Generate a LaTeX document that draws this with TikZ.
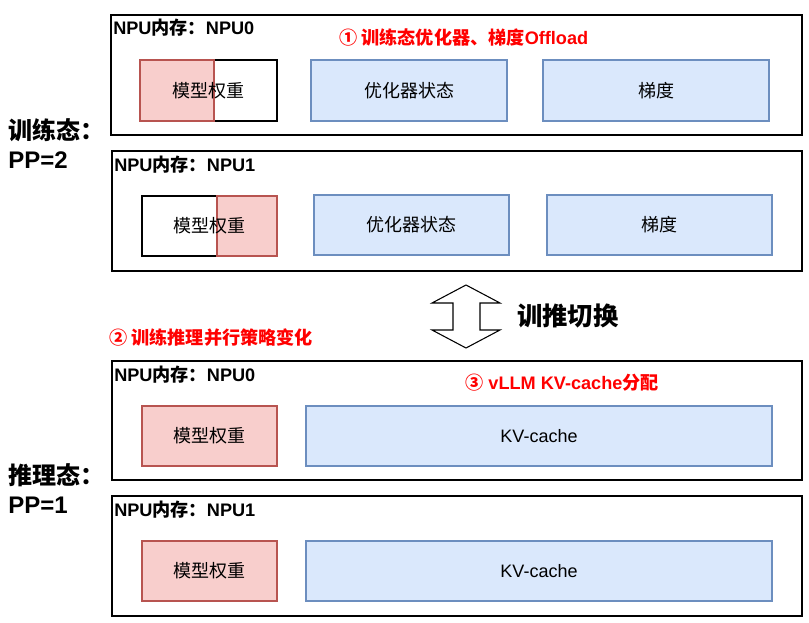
\documentclass[tikz,border=0pt]{standalone}
\usepackage{fontspec}
\setmainfont{Liberation Sans}
\newfontfamily\cjk{Noto Sans CJK SC}
\usetikzlibrary{fit}
\definecolor{redfill}{HTML}{F8CECC}
\definecolor{redline}{HTML}{B85450}
\definecolor{bluefill}{HTML}{DAE8FC}
\definecolor{blueline}{HTML}{6C8EBF}
\definecolor{hilite}{HTML}{FF0000}
\begin{document}
\begin{tikzpicture}[x=0.75pt,y=-0.75pt,
  mem/.style={draw=black, line width=1.1pt, inner sep=0pt},
  wbox/.style={draw=black, line width=0.8pt, fill=white, inner sep=0pt},
  rbox/.style={draw=redline, line width=0.8pt, fill=redfill, inner sep=0pt},
  bbox/.style={draw=blueline, line width=0.8pt, fill=bluefill, inner sep=0pt},
  boxtext/.style={font=\fontsize{13.5}{16}\selectfont, inner sep=0pt},
  npulabel/.style={anchor=west, inner sep=0pt, font=\bfseries\fontsize{13.6}{16}\selectfont},
  redlabel/.style={anchor=west, inner sep=0pt, text=hilite, font=\bfseries\fontsize{13.6}{16}\selectfont},
  statelabel/.style={anchor=west, inner sep=0pt, align=left, font=\bfseries\fontsize{18}{23}\selectfont},
]
\useasboundingbox (0,0) rectangle (809,623);

% ---------- training state, NPU0 ----------
\node[mem, fit={(111,15) (802,135)}] (m0) {};
\node[npulabel] (n0) at (113,28) {NPU{\cjk 内存：}NPU0};
\node[wbox, fit={(140,60) (277,121)}] (w0) {};
\node[rbox, fit={(140,60) (214,121)}] (w0r) {};
\node[boxtext] (w0t) at (208.5,90.5) {\cjk 模型权重};
\node[bbox, fit={(311,60) (507,121)}] (o0) {};
\node[boxtext] (o0t) at (o0.center) {\cjk 优化器状态};
\node[bbox, fit={(543,60) (769,121)}] (g0) {};
\node[boxtext] (g0t) at (g0.center) {\cjk 梯度};
\node[redlabel] (r1) at (339,38) {{\cjk ① 训练态优化器、梯度}Offload};

% ---------- training state, NPU1 ----------
\node[mem, fit={(112,151) (802,271)}] (m1) {};
\node[npulabel] (n1) at (114,165) {NPU{\cjk 内存：}NPU1};
\node[wbox, fit={(142,196) (277,256)}] (w1) {};
\node[rbox, fit={(217,196) (277,256)}] (w1r) {};
\node[boxtext] (w1t) at (w1.center) {\cjk 模型权重};
\node[bbox, fit={(314,195) (509,255)}] (o1) {};
\node[boxtext] (o1t) at (o1.center) {\cjk 优化器状态};
\node[bbox, fit={(547,195) (772,255)}] (g1) {};
\node[boxtext] (g1t) at (g1.center) {\cjk 梯度};

\node[statelabel] (s1) at (8,130) {\cjk 训练态：};
\node[statelabel] (s1b) at (8,160) {PP=2};

% ---------- switch arrow ----------
\draw[line width=0.8pt, fill=white] (466,285) -- (500,303) -- (480,303) -- (480,330) -- (500,330)
  -- (466,348) -- (432,330) -- (453,330) -- (453,303) -- (432,303) -- cycle;
\node[anchor=west, inner sep=0pt, font=\bfseries\fontsize{19}{22}\selectfont] (sw) at (517,316) {\cjk 训推切换};

\node[redlabel] (r2) at (109,338) {\cjk ② 训练推理并行策略变化};

% ---------- inference state, NPU0 ----------
\node[mem, fit={(112,361) (802,480)}] (m2) {};
\node[npulabel] (n2) at (114,375) {NPU{\cjk 内存：}NPU0};
\node[rbox, fit={(142,406) (277,466)}] (w2) {};
\node[boxtext] (w2t) at (w2.center) {\cjk 模型权重};
\node[bbox, fit={(306,406) (772,466)}] (k2) {};
\node[boxtext] (k2t) at (k2.center) {KV-cache};
\node[redlabel] (r3) at (465,383) {{\cjk ③} vLLM KV-cache{\cjk 分配}};

% ---------- inference state, NPU1 ----------
\node[mem, fit={(112,496) (802,616)}] (m3) {};
\node[npulabel] (n3) at (114,510) {NPU{\cjk 内存：}NPU1};
\node[rbox, fit={(142,541) (277,601)}] (w3) {};
\node[boxtext] (w3t) at (w3.center) {\cjk 模型权重};
\node[bbox, fit={(306,541) (772,601)}] (k3) {};
\node[boxtext] (k3t) at (k3.center) {KV-cache};

\node[statelabel] (s2) at (8,475) {\cjk 推理态：};
\node[statelabel] (s2b) at (8,505) {PP=1};
\end{tikzpicture}
\end{document}
